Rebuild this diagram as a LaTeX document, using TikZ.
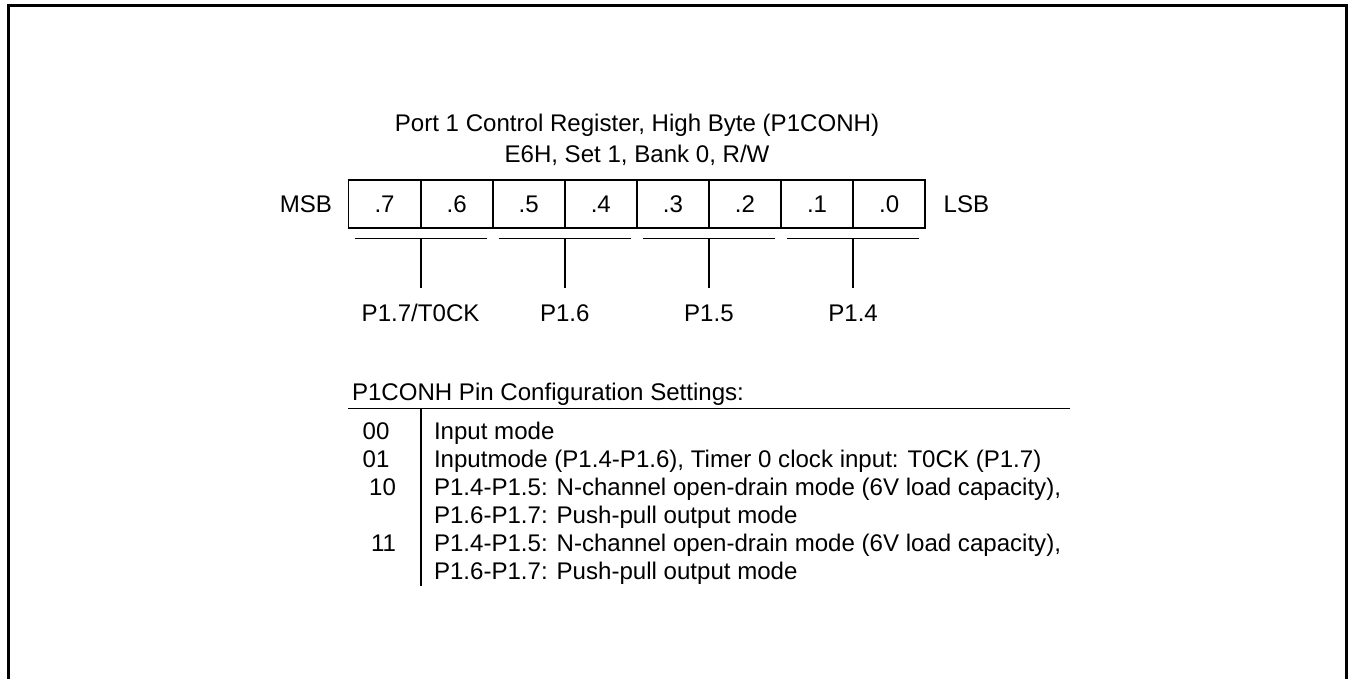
\documentclass[tikz,border=0pt]{standalone}
\usepackage{fontspec}
\setmainfont{Liberation Sans}
\usetikzlibrary{positioning, calc}
\tikzset{
  bitcell/.style={
    rectangle, draw=black, line width=1.1pt, outer sep=0pt, inner sep=0pt,
    minimum width=1.442cm, minimum height=0.96cm
  },
  plain/.style={inner sep=0pt, outer sep=0pt},
  rule/.style={draw=black, line width=1.1pt},
  frame/.style={draw=black, line width=1.7pt},
}

\begin{document}
\begin{tikzpicture}[x=0.02cm, y=-0.02cm, font=\fontsize{13.7}{16}\selectfont]
    \useasboundingbox (0,0) rectangle (1348,679);
    \draw[frame] (8.5,679) -- (8.5,5.5) -- (1346.5,5.5) -- (1346.5,679);

    % title
    \node[plain, anchor=base] (title) at (637,131.6) {Port 1 Control Register, High Byte (P1CONH)};
    \node[plain, anchor=base] (addr) at (637,162.6) {E6H, Set 1, Bank 0, R/W};

    % register bits
    \node[bitcell] (b7) at (384.55,204) {.7};
    \node[bitcell, right=0pt of b7] (b6) {.6};
    \node[bitcell, right=0pt of b6] (b5) {.5};
    \node[bitcell, right=0pt of b5] (b4) {.4};
    \node[bitcell, right=0pt of b4] (b3) {.3};
    \node[bitcell, right=0pt of b3] (b2) {.2};
    \node[bitcell, right=0pt of b2] (b1) {.1};
    \node[bitcell, right=0pt of b1] (b0) {.0};
    \node[plain, left=0.33cm of b7] (msb) {MSB};
    \node[plain, right=0.37cm of b0] (lsb) {LSB};

    % bit pairs
    \draw[rule] ($(b7.south west)+(6,10.5)$) -- ($(b6.south east)+(-6,10.5)$);
    \draw[rule] ($(b5.south west)+(6,10.5)$) -- ($(b4.south east)+(-6,10.5)$);
    \draw[rule] ($(b3.south west)+(6,10.5)$) -- ($(b2.south east)+(-6,10.5)$);
    \draw[rule] ($(b1.south west)+(6,10.5)$) -- ($(b0.south east)+(-6,10.5)$);

    \coordinate (bar7) at ($(b7.south east)+(0,10.5)$);
    \coordinate (bar5) at ($(b5.south east)+(0,10.5)$);
    \coordinate (bar3) at ($(b3.south east)+(0,10.5)$);
    \coordinate (bar1) at ($(b1.south east)+(0,10.5)$);

    \node[plain, anchor=base] (pin17) at ($(b7.south east)+(0,93.6)$) {P1.7/T0CK};
    \node[plain, anchor=base] (pin16) at ($(b5.south east)+(0,93.6)$) {P1.6};
    \node[plain, anchor=base] (pin15) at ($(b3.south east)+(0,93.6)$) {P1.5};
    \node[plain, anchor=base] (pin14) at ($(b1.south east)+(0,93.6)$) {P1.4};

    \draw[rule] (bar7) -- (bar7 |- 0,288);
    \draw[rule] (bar5) -- (bar5 |- 0,288);
    \draw[rule] (bar3) -- (bar3 |- 0,288);
    \draw[rule] (bar1) -- (bar1 |- 0,288);

    % settings table
    \node[plain, anchor=base west] (cfg) at (352,400.6) {P1CONH Pin Configuration Settings:};
    \coordinate (rulel) at (348,408.5);
    \coordinate (ruler) at (1070,408.5);
    \draw[rule] (rulel) -- (ruler);
    \draw[rule] (421,408.5) -- (421,586);

    \node[plain, anchor=base east] (c00) at (389.5,439) {00};
    \node[plain, anchor=base east] (c01) at (389.5,467) {01};
    \node[plain, anchor=base east] (c10) at (396,495) {10};
    \node[plain, anchor=base east] (c11) at (396,551) {11};

    \node[plain, anchor=base west] (d00) at (434,439) {Input mode};
    \node[plain, anchor=base west] (d01) at (434,467) {Inputmode (P1.4-P1.6), Timer 0 clock input: T0CK (P1.7)};
    \node[plain, anchor=base west] (d10a) at (434,495) {P1.4-P1.5: N-channel open-drain mode (6V load capacity),};
    \node[plain, anchor=base west] (d10b) at (434,523) {P1.6-P1.7: Push-pull output mode};
    \node[plain, anchor=base west] (d11a) at (434,551) {P1.4-P1.5: N-channel open-drain mode (6V load capacity),};
    \node[plain, anchor=base west] (d11b) at (434,579) {P1.6-P1.7: Push-pull output mode};
\end{tikzpicture}
\end{document}
